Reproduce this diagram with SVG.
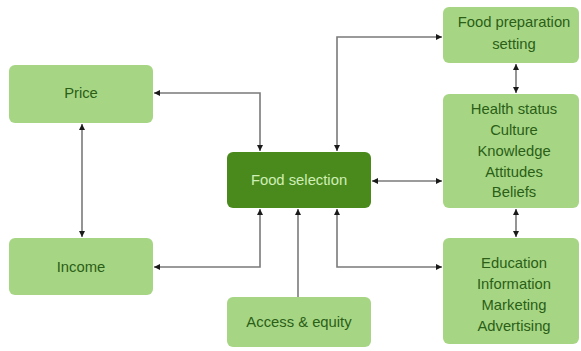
<svg xmlns="http://www.w3.org/2000/svg" width="581" height="351" viewBox="0 0 581 351">
<defs>
<style>
.box{fill:#a6d684;}
.dark{fill:#4a8a1d;}
.t{font-family:"Liberation Sans",Arial,sans-serif;font-size:14.8px;fill:#2b5e17;text-anchor:middle;}
.tw{font-family:"Liberation Sans",Arial,sans-serif;font-size:14.8px;fill:#d0efb6;text-anchor:middle;}
.c{fill:none;stroke:#7a7a7a;stroke-width:1.6;}
</style>
<marker id="a" viewBox="0 0 10 10" refX="10" refY="5" markerWidth="6" markerHeight="6" markerUnits="userSpaceOnUse" orient="auto-start-reverse">
<path d="M0,0 L10,5 L0,10 z" fill="#1a1a1a"/>
</marker>
</defs>
<rect width="581" height="351" fill="#ffffff"/>
<g id="connectors">
<path class="c" d="M154,93 H260 V151" marker-start="url(#a)" marker-end="url(#a)"/>
<path class="c" d="M82,124 V237" marker-start="url(#a)" marker-end="url(#a)"/>
<path class="c" d="M154,267 H260 V209" marker-start="url(#a)" marker-end="url(#a)"/>
<path class="c" d="M298,297 V209" marker-end="url(#a)"/>
<path class="c" d="M337,209 V267 H442" marker-start="url(#a)" marker-end="url(#a)"/>
<path class="c" d="M337,151 V37 H442" marker-start="url(#a)" marker-end="url(#a)"/>
<path class="c" d="M372,181 H442" marker-start="url(#a)" marker-end="url(#a)"/>
<path class="c" d="M516,64 V93" marker-start="url(#a)" marker-end="url(#a)"/>
<path class="c" d="M516,209 V237" marker-start="url(#a)" marker-end="url(#a)"/>
</g>
<g id="price">
<rect class="box" x="9" y="65" width="144" height="58" rx="6"/>
<text class="t" x="81" y="98">Price</text>
</g>
<g id="income">
<rect class="box" x="9" y="238" width="144" height="57" rx="6"/>
<text class="t" x="81" y="272">Income</text>
</g>
<g id="food-selection">
<rect class="dark" x="227" y="152" width="144" height="56" rx="6"/>
<text class="tw" x="299" y="185">Food selection</text>
</g>
<g id="access-equity">
<rect class="box" x="227" y="297" width="144" height="50" rx="6"/>
<text class="t" x="299" y="327">Access &amp; equity</text>
</g>
<g id="food-preparation">
<rect class="box" x="443" y="7" width="136" height="56" rx="6"/>
<text class="t" x="514" y="27">Food preparation</text>
<text class="t" x="514" y="49">setting</text>
</g>
<g id="health-status">
<rect class="box" x="443" y="94" width="136" height="114" rx="6"/>
<text class="t" x="514" y="114">Health status</text>
<text class="t" x="514" y="135">Culture</text>
<text class="t" x="514" y="156">Knowledge</text>
<text class="t" x="514" y="177">Attitudes</text>
<text class="t" x="514" y="197">Beliefs</text>
</g>
<g id="education">
<rect class="box" x="443" y="238" width="136" height="106" rx="6"/>
<text class="t" x="514" y="268">Education</text>
<text class="t" x="514" y="289">Information</text>
<text class="t" x="514" y="310">Marketing</text>
<text class="t" x="514" y="331">Advertising</text>
</g>
</svg>
